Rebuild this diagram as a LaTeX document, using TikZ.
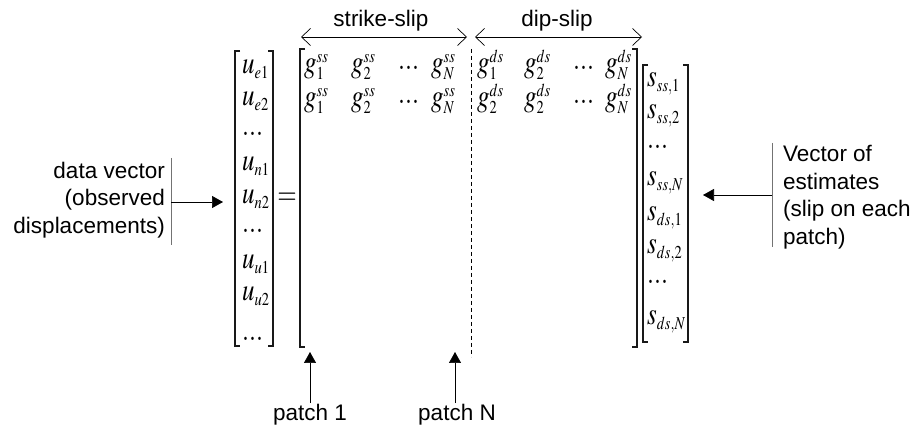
\documentclass[tikz,border=0pt]{standalone}
\usepackage{graphicx}
\usepackage{mathptmx}
\usepackage[no-math]{fontspec}
\setmainfont{Liberation Sans}
\usetikzlibrary{arrows.meta}
\DeclareMathSizes{25}{25}{14.5}{11}
\newcommand\mth[1]{\scalebox{1}[1.25]{$#1$}}
\newcommand\dts{\mth{...}}
\newcommand\gel[2]{\mth{g_{#1}^{\raisebox{-3.2pt}{$\scriptstyle #2$}}}}
\begin{document}
\begin{tikzpicture}[x=1pt,y=-1pt,
  lbl/.style={font=\fontsize{22.5}{27.5}\selectfont, inner sep=0pt},
  ent/.style={inner sep=0pt, anchor=base west, font=\fontsize{25}{29}\selectfont},
  brk/.style={line width=1.6pt, line cap=butt, draw=black!90},
  arr/.style={-{Triangle[length=11pt,width=12pt]}, line width=0.7pt},
  spanarr/.style={{Straight Barb[length=9pt,width=17pt]}-{Straight Barb[length=9pt,width=17pt]}, line width=0.7pt},
  bar/.style={line width=0.9pt, draw=black!55}]
\useasboundingbox (0,0) rectangle (916,430);

% ---- left vector
\node[ent] (u1) at (242,74)  {\mth{u_{e1}}};
\node[ent] (u2) at (242,106) {\mth{u_{e2}}};
\node[ent] (u3) at (242,136) {\dts};
\node[ent] (u4) at (242,171) {\mth{u_{n1}}};
\node[ent] (u5) at (242,204) {\mth{u_{n2}}};
\node[ent] (u6) at (242,233) {\dts};
\node[ent] (u7) at (242,269) {\mth{u_{u1}}};
\node[ent] (u8) at (242,301) {\mth{u_{u2}}};
\node[ent] (u9) at (242,341) {\dts};
\draw[brk] (240,51) -- (235,51) -- (235,346) -- (240,346);
\draw[brk] (268,51) -- (273,51) -- (273,346) -- (268,346);

\node[ent, anchor=center] (eq) at (287,199) {\mth{=}};

% ---- G matrix
\node[ent] (a1) at (304,73) {\gel{1}{ss}};
\node[ent] (a2) at (351,73) {\gel{2}{ss}};
\node[ent] (a3) at (398,70) {\dts};
\node[ent] (a4) at (431,73) {\gel{N}{ss}};
\node[ent] (a5) at (477,73) {\gel{1}{ds}};
\node[ent] (a6) at (524,73) {\gel{2}{ds}};
\node[ent] (a7) at (573,70) {\dts};
\node[ent] (a8) at (605,73) {\gel{N}{ds}};
\node[ent] (b1) at (304,107) {\gel{1}{ss}};
\node[ent] (b2) at (351,107) {\gel{2}{ss}};
\node[ent] (b3) at (398,104) {\dts};
\node[ent] (b4) at (431,107) {\gel{N}{ss}};
\node[ent] (b5) at (477,107) {\gel{2}{ds}};
\node[ent] (b6) at (524,107) {\gel{2}{ds}};
\node[ent] (b7) at (573,104) {\dts};
\node[ent] (b8) at (605,107) {\gel{N}{ds}};
\draw[brk] (305,49) -- (300,49) -- (300,347) -- (305,347);
\draw[brk] (632,49) -- (637,49) -- (637,347) -- (632,347);
\draw[line width=0.6pt, dash pattern=on 4pt off 3pt] (471,49) -- (471,357);

% ---- headers
\coordinate (ssL) at (301,37); \coordinate (ssR) at (467,37);
\coordinate (dsL) at (475,37); \coordinate (dsR) at (642,37);
\draw[spanarr] (ssL) -- (ssR);
\draw[spanarr] (dsL) -- (dsR);
\node[lbl, anchor=base] (hss) at (381,27) {strike-slip};
\node[lbl, anchor=base] (hds) at (557,27) {dip-slip};

% ---- right vector
\node[ent] (s1) at (647,87)  {\mth{s_{ss,1}}};
\node[ent] (s2) at (647,119) {\mth{s_{ss,2}}};
\node[ent] (s3) at (647,149) {\dts};
\node[ent] (s4) at (647,186) {\mth{s_{ss,N}}};
\node[ent] (s5) at (647,221) {\mth{s_{ds,1}}};
\node[ent] (s6) at (647,254) {\mth{s_{ds,2}}};
\node[ent] (s7) at (647,284) {\dts};
\node[ent] (s8) at (647,325) {\mth{s_{ds,N}}};
\draw[brk] (648,65) -- (643,65) -- (643,342) -- (648,342);
\draw[brk] (683,65) -- (688,65) -- (688,342) -- (683,342);

% ---- left label
\node[lbl, align=right, anchor=east] (dv) at (165,200) {data vector\\(observed\\displacements)};
\draw[bar] (171,158) -- (171,245);
\coordinate (dvS) at (171,202);
\coordinate (dvT) at (223,202);
\draw[arr] (dvS) -- (dvT);

% ---- right label
\node[lbl, align=left, anchor=west] (ve) at (783,197) {Vector of\\estimates\\(slip on each\\patch)};
\draw[bar] (772,143) -- (772,247);
\coordinate (veS) at (772,195);
\coordinate (veT) at (703,195);
\draw[arr] (veS) -- (veT);

% ---- patch labels
\node[lbl, anchor=base] (p1) at (310,420) {patch 1};
\node[lbl, anchor=base] (pN) at (457,420) {patch N};
\coordinate (p1S) at (310,403);
\coordinate (pNS) at (455,403);
\coordinate (p1T) at (310,352);
\coordinate (pNT) at (455,352);
\draw[arr] (p1S) -- (p1T);
\draw[arr] (pNS) -- (pNT);
\end{tikzpicture}
\end{document}
